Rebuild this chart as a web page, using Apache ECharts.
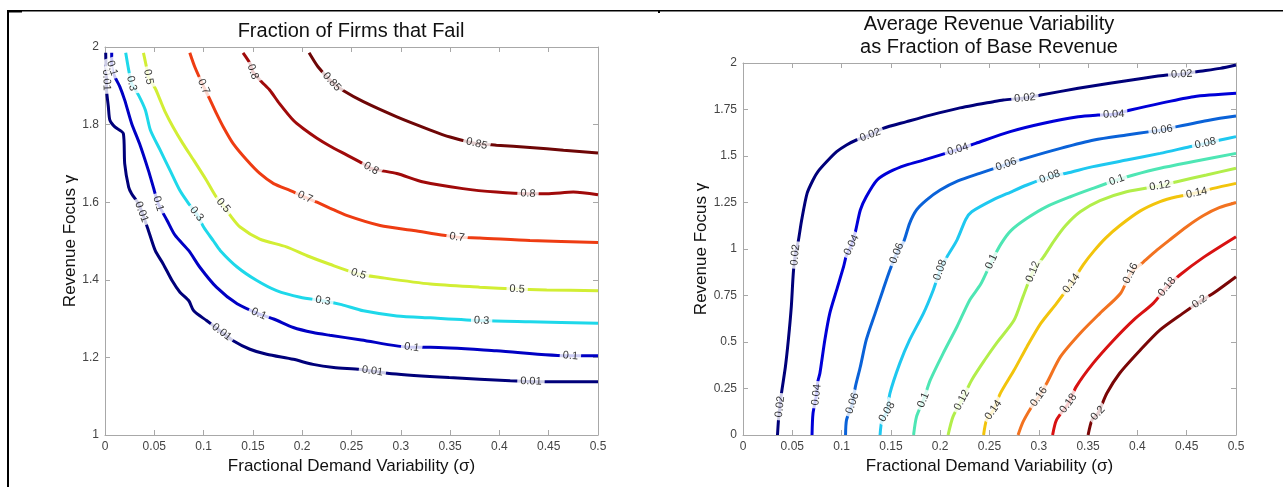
<!DOCTYPE html>
<html><head><meta charset="utf-8">
<script src="https://cdn.jsdelivr.net/npm/echarts@6/dist/echarts.min.js"></script>
<style>html,body{margin:0;padding:0;background:#fff}#c{width:1283px;height:487px}</style>
</head><body><div id="c"></div>
<script>
// ---------- Left panel: Fraction of Firms that Fail ----------
const failLevels = ['0.01','0.1','0.3','0.5','0.7','0.8','0.85'];
const failColors = ['#00007a','#0000c4','#1ed8ea','#d2ee34','#ee3c12','#a00a0a','#6e0606'];
const fail_001 = [[0.0007,1.985],[0.001,1.949],[0.0015,1.915],[0.0017,1.885],[0.0034,1.846],[0.005,1.811],[0.010,1.794],[0.0186,1.777],[0.020,1.699],[0.024,1.639],[0.027,1.622],[0.034,1.596],[0.043,1.535],[0.051,1.475],[0.059,1.441],[0.068,1.398],[0.076,1.368],[0.085,1.346],[0.090,1.320],[0.103,1.295],[0.118,1.266],[0.130,1.243],[0.147,1.221],[0.164,1.208],[0.191,1.195],[0.211,1.182],[0.232,1.174],[0.259,1.169],[0.291,1.158],[0.349,1.148],[0.411,1.140],[0.448,1.137],[0.5,1.137]];
const fail_01 = [[0.0068,1.985],[0.0068,1.949],[0.010,1.923],[0.015,1.898],[0.020,1.863],[0.027,1.803],[0.035,1.751],[0.044,1.682],[0.049,1.639],[0.054,1.596],[0.063,1.553],[0.071,1.515],[0.085,1.475],[0.096,1.433],[0.113,1.381],[0.134,1.338],[0.156,1.312],[0.171,1.299],[0.191,1.277],[0.211,1.264],[0.228,1.257],[0.260,1.245],[0.311,1.226],[0.330,1.226],[0.397,1.217],[0.472,1.204],[0.5,1.204]];
const fail_03 = [[0.021,1.985],[0.024,1.941],[0.027,1.906],[0.034,1.876],[0.041,1.837],[0.046,1.786],[0.056,1.734],[0.066,1.682],[0.076,1.630],[0.085,1.596],[0.093,1.570],[0.100,1.536],[0.110,1.500],[0.117,1.475],[0.134,1.433],[0.154,1.398],[0.174,1.372],[0.198,1.355],[0.221,1.346],[0.240,1.336],[0.262,1.320],[0.296,1.307],[0.330,1.302],[0.382,1.295],[0.431,1.292],[0.5,1.288]];
const fail_05 = [[0.039,1.985],[0.042,1.949],[0.044,1.923],[0.051,1.893],[0.056,1.863],[0.061,1.833],[0.069,1.794],[0.079,1.751],[0.090,1.708],[0.103,1.656],[0.113,1.613],[0.120,1.592],[0.127,1.566],[0.137,1.536],[0.157,1.505],[0.184,1.485],[0.205,1.462],[0.228,1.440],[0.257,1.415],[0.279,1.406],[0.330,1.389],[0.380,1.381],[0.418,1.376],[0.448,1.374],[0.5,1.372]];
const fail_07 = [[0.086,1.985],[0.091,1.949],[0.100,1.898],[0.106,1.867],[0.113,1.829],[0.120,1.794],[0.130,1.751],[0.144,1.708],[0.157,1.674],[0.171,1.648],[0.188,1.630],[0.203,1.613],[0.215,1.600],[0.228,1.585],[0.245,1.566],[0.279,1.540],[0.313,1.527],[0.357,1.510],[0.380,1.508],[0.431,1.501],[0.5,1.496]];
const fail_08 = [[0.140,1.985],[0.147,1.958],[0.150,1.936],[0.159,1.910],[0.167,1.889],[0.177,1.854],[0.191,1.811],[0.201,1.790],[0.215,1.765],[0.228,1.745],[0.245,1.722],[0.262,1.699],[0.270,1.687],[0.279,1.682],[0.296,1.674],[0.323,1.652],[0.363,1.635],[0.397,1.626],[0.429,1.622],[0.448,1.622],[0.475,1.626],[0.5,1.619]];
const fail_085 = [[0.207,1.985],[0.216,1.949],[0.230,1.910],[0.242,1.887],[0.262,1.859],[0.296,1.820],[0.330,1.786],[0.350,1.768],[0.377,1.751],[0.397,1.747],[0.431,1.741],[0.465,1.734],[0.5,1.727]];
const failLines = [fail_001, fail_01, fail_03, fail_05, fail_07, fail_08, fail_085];
// label anchor points (data units)
const fail_001_lbl = [[0.001,1.915],[0.037,1.575],[0.118,1.264],[0.271,1.161],[0.432,1.138]];
const fail_01_lbl = [[0.0068,1.945],[0.054,1.596],[0.156,1.312],[0.311,1.226],[0.472,1.204]];
const fail_03_lbl = [[0.027,1.906],[0.093,1.570],[0.221,1.346],[0.382,1.295]];
const fail_05_lbl = [[0.044,1.923],[0.120,1.592],[0.257,1.415],[0.418,1.376]];
const fail_07_lbl = [[0.100,1.898],[0.203,1.613],[0.357,1.510]];
const fail_08_lbl = [[0.150,1.936],[0.270,1.687],[0.429,1.622]];
const fail_085_lbl = [[0.230,1.910],[0.377,1.751]];
const failLbls = [fail_001_lbl, fail_01_lbl, fail_03_lbl, fail_05_lbl, fail_07_lbl, fail_08_lbl, fail_085_lbl];

// ---------- Right panel: Average Revenue Variability ----------
const varLevels = ['0.02','0.04','0.06','0.08','0.1','0.12','0.14','0.16','0.18','0.2'];
const varColors = ['#00007a','#0000d8','#0a62d8','#1ec8f0','#4ee6b4','#b2ee4a','#f2c40c','#f27220','#d81212','#7a0606'];
const var_002 = [[0.035,0],[0.036,0.081],[0.0375,0.152],[0.039,0.224],[0.043,0.367],[0.046,0.511],[0.049,0.690],[0.051,0.869],[0.053,0.968],[0.056,1.040],[0.0595,1.156],[0.065,1.299],[0.071,1.371],[0.076,1.416],[0.085,1.470],[0.095,1.523],[0.105,1.559],[0.115,1.586],[0.129,1.613],[0.142,1.649],[0.166,1.685],[0.190,1.720],[0.218,1.756],[0.254,1.792],[0.264,1.801],[0.286,1.812],[0.302,1.828],[0.340,1.864],[0.372,1.891],[0.406,1.918],[0.430,1.935],[0.445,1.940],[0.460,1.953],[0.484,1.971],[0.5,1.989]];
const var_004 = [[0.070,0],[0.071,0.116],[0.0745,0.215],[0.076,0.290],[0.078,0.332],[0.083,0.511],[0.088,0.654],[0.095,0.780],[0.102,0.905],[0.105,0.968],[0.110,1.021],[0.114,1.093],[0.119,1.210],[0.125,1.281],[0.136,1.371],[0.149,1.416],[0.166,1.452],[0.183,1.478],[0.218,1.535],[0.236,1.568],[0.271,1.631],[0.305,1.676],[0.340,1.711],[0.360,1.720],[0.376,1.724],[0.393,1.747],[0.423,1.783],[0.457,1.819],[0.5,1.837]];
const var_006 = [[0.104,0],[0.105,0.081],[0.111,0.170],[0.114,0.260],[0.119,0.367],[0.125,0.511],[0.134,0.654],[0.142,0.780],[0.149,0.887],[0.156,0.977],[0.163,1.040],[0.169,1.138],[0.176,1.210],[0.186,1.263],[0.200,1.317],[0.218,1.366],[0.240,1.407],[0.267,1.455],[0.288,1.490],[0.322,1.541],[0.356,1.586],[0.389,1.613],[0.413,1.631],[0.425,1.640],[0.440,1.658],[0.474,1.694],[0.5,1.715]];
const var_008 = [[0.139,0],[0.141,0.081],[0.146,0.125],[0.149,0.224],[0.159,0.385],[0.169,0.511],[0.183,0.654],[0.193,0.780],[0.200,0.887],[0.207,0.959],[0.217,1.048],[0.226,1.160],[0.232,1.200],[0.254,1.265],[0.271,1.305],[0.288,1.344],[0.311,1.389],[0.328,1.407],[0.355,1.443],[0.389,1.478],[0.423,1.514],[0.453,1.550],[0.469,1.568],[0.484,1.586],[0.5,1.604]];
const var_010 = [[0.173,0],[0.176,0.099],[0.183,0.188],[0.190,0.296],[0.203,0.439],[0.217,0.582],[0.230,0.726],[0.241,0.810],[0.252,0.932],[0.262,1.030],[0.272,1.100],[0.288,1.165],[0.308,1.228],[0.332,1.281],[0.355,1.326],[0.379,1.371],[0.396,1.398],[0.423,1.434],[0.457,1.470],[0.5,1.514]];
const var_012 = [[0.208,0],[0.213,0.099],[0.222,0.188],[0.232,0.296],[0.246,0.410],[0.257,0.493],[0.275,0.618],[0.284,0.744],[0.294,0.878],[0.305,0.959],[0.316,1.048],[0.327,1.125],[0.342,1.200],[0.362,1.260],[0.389,1.308],[0.423,1.340],[0.440,1.362],[0.470,1.398],[0.5,1.434]];
const var_014 = [[0.244,0],[0.247,0.081],[0.254,0.134],[0.261,0.224],[0.275,0.349],[0.288,0.475],[0.302,0.600],[0.318,0.708],[0.333,0.815],[0.345,0.915],[0.356,0.990],[0.368,1.060],[0.382,1.125],[0.403,1.205],[0.423,1.255],[0.440,1.281],[0.460,1.302],[0.477,1.326],[0.5,1.353]];
const var_016 = [[0.279,0],[0.284,0.070],[0.292,0.145],[0.300,0.206],[0.308,0.278],[0.322,0.421],[0.342,0.547],[0.362,0.654],[0.383,0.762],[0.393,0.869],[0.406,0.930],[0.420,0.995],[0.433,1.050],[0.450,1.120],[0.467,1.180],[0.483,1.222],[0.5,1.250]];
const var_018 = [[0.314,0],[0.318,0.081],[0.330,0.170],[0.338,0.260],[0.355,0.385],[0.376,0.511],[0.396,0.618],[0.416,0.708],[0.430,0.797],[0.443,0.860],[0.467,0.955],[0.5,1.066]];
const var_020 = [[0.350,0],[0.354,0.081],[0.360,0.116],[0.369,0.224],[0.382,0.332],[0.403,0.457],[0.423,0.565],[0.446,0.654],[0.463,0.717],[0.477,0.762],[0.5,0.851]];
const varLines = [var_002, var_004, var_006, var_008, var_010, var_012, var_014, var_016, var_018, var_020];
const var_002_lbl = [[0.0375,0.152],[0.053,0.968],[0.129,1.613],[0.286,1.810],[0.445,1.938]];
const var_004_lbl = [[0.0765,0.215],[0.110,1.021],[0.218,1.535],[0.376,1.722]];
const var_006_lbl = [[0.111,0.170],[0.156,0.977],[0.267,1.455],[0.425,1.640]];
const var_008_lbl = [[0.146,0.125],[0.200,0.887],[0.311,1.389],[0.469,1.568]];
const var_010_lbl = [[0.183,0.188],[0.252,0.932],[0.379,1.371]];
const var_012_lbl = [[0.222,0.188],[0.294,0.878],[0.423,1.340]];
const var_014_lbl = [[0.254,0.134],[0.333,0.815],[0.460,1.302]];
const var_016_lbl = [[0.300,0.206],[0.393,0.869]];
const var_018_lbl = [[0.330,0.170],[0.430,0.797]];
const var_020_lbl = [[0.360,0.116],[0.463,0.717]];
const varLbls = [var_002_lbl, var_004_lbl, var_006_lbl, var_008_lbl, var_010_lbl, var_012_lbl, var_014_lbl, var_016_lbl, var_018_lbl, var_020_lbl];

// ---------- Axis ticks ----------
const xTicks = {min: 0, max: 0.5, interval: 0.05};
const failY = {min: 1, max: 2, interval: 0.2};
const varY = {min: 0, max: 2, interval: 0.25};
const xTitle = 'Fractional Demand Variability (\u03c3)';
const yTitle = 'Revenue Focus \u03b3';

const FONT = '"Liberation Sans", Arial, Helvetica, sans-serif';
const AX = '#a8a8a8';

function axis(base, gridIndex, position, showLabels, name, nameGap) {
  return Object.assign({
    type: 'value', gridIndex, position,
    axisLine: {show: true, onZero: false, lineStyle: {color: AX, width: 1}},
    axisTick: {show: true, inside: true, length: 5, lineStyle: {color: AX}},
    axisLabel: {show: showLabels, color: '#444', fontSize: 12, fontFamily: FONT, margin: 6},
    splitLine: {show: false},
    name: name || '', nameLocation: 'middle', nameGap: nameGap || 0,
    nameTextStyle: {fontSize: 17, color: '#111', fontFamily: FONT}
  }, base);
}

const chart = echarts.init(document.getElementById('c'));

const series = [];
failLines.forEach((d, i) => series.push({
  type: 'line', xAxisIndex: 0, yAxisIndex: 0, data: d, symbol: 'none', smooth: 0.25,
  lineStyle: {color: failColors[i], width: 3}, z: 2, silent: true, animation: false
}));
varLines.forEach((d, i) => series.push({
  type: 'line', xAxisIndex: 2, yAxisIndex: 2, data: d, symbol: 'none', smooth: 0.25,
  lineStyle: {color: varColors[i], width: 3}, z: 2, silent: true, animation: false
}));
function lblSeries(id, xi, yi, text) {
  return {
    id, type: 'scatter', xAxisIndex: xi, yAxisIndex: yi, data: [], symbolSize: 1,
    itemStyle: {color: 'rgba(0,0,0,0)'}, z: 5, silent: true, animation: false,
    label: {show: true, position: 'inside', formatter: text, color: '#000', fontSize: 11,
      fontFamily: FONT, backgroundColor: '#fff', padding: [1, 3]}
  };
}
failLevels.forEach((t, i) => series.push(lblSeries('fl' + i, 0, 0, t)));
varLevels.forEach((t, i) => series.push(lblSeries('vl' + i, 2, 2, t)));

chart.setOption({
  animation: false,
  backgroundColor: '#fff',
  title: [
    {text: 'Fraction of Firms that Fail', left: 351, top: 20, textAlign: 'center', padding: 0,
     textStyle: {fontSize: 20, fontWeight: 'normal', color: '#111', fontFamily: FONT, lineHeight: 23}},
    {text: 'Average Revenue Variability\nas Fraction of Base Revenue', left: 989, top: 13, textAlign: 'center', padding: 0,
     textStyle: {fontSize: 20, fontWeight: 'normal', color: '#111', fontFamily: FONT, lineHeight: 23}}
  ],
  grid: [
    {left: 105, top: 47, width: 493, height: 388, show: false},
    {left: 743, top: 63, width: 493, height: 372, show: false}
  ],
  xAxis: [
    axis(xTicks, 0, 'bottom', true, xTitle, 19),
    axis(xTicks, 0, 'top', false),
    axis(xTicks, 1, 'bottom', true, xTitle, 19),
    axis(xTicks, 1, 'top', false)
  ],
  yAxis: [
    axis(failY, 0, 'left', true, yTitle, 24),
    axis(failY, 0, 'right', false),
    axis(varY, 1, 'left', true, yTitle, 30),
    axis(varY, 1, 'right', false)
  ],
  graphic: [
    {type: 'rect', shape: {x: 7, y: 10, width: 1276, height: 1.5}, style: {fill: '#000'}},
    {type: 'rect', shape: {x: 7, y: 10, width: 2, height: 477}, style: {fill: '#000'}},
    {type: 'rect', shape: {x: 7, y: 10, width: 15, height: 2.5}, style: {fill: '#000'}},
    {type: 'rect', shape: {x: 658, y: 10, width: 2, height: 3}, style: {fill: '#000'}}
  ],
  series
});

function placeLabels(line, lbls, gridIndex) {
  const pts = line.map(p => chart.convertToPixel({gridIndex}, p));
  return lbls.map(p => {
    const pp = chart.convertToPixel({gridIndex}, p);
    let best = null;
    for (let i = 0; i < pts.length - 1; i++) {
      const a = pts[i], b = pts[i + 1];
      const dx = b[0] - a[0], dy = b[1] - a[1], L = dx * dx + dy * dy;
      let t = L ? ((pp[0] - a[0]) * dx + (pp[1] - a[1]) * dy) / L : 0;
      t = Math.max(0, Math.min(1, t));
      const q = [a[0] + t * dx, a[1] + t * dy];
      const d = (q[0] - pp[0]) ** 2 + (q[1] - pp[1]) ** 2;
      if (!best || d < best.d) best = {d, q, ang: Math.atan2(-dy, dx) * 180 / Math.PI};
    }
    let ang = best.ang;
    if (ang > 90) ang -= 180;
    if (ang < -90) ang += 180;
    return {value: chart.convertFromPixel({gridIndex}, best.q), label: {rotate: ang}};
  });
}

const upd = [];
failLines.forEach((l, i) => upd.push({id: 'fl' + i, data: placeLabels(l, failLbls[i], 0)}));
varLines.forEach((l, i) => upd.push({id: 'vl' + i, data: placeLabels(l, varLbls[i], 1)}));
chart.setOption({series: upd});
</script>
</body></html>
